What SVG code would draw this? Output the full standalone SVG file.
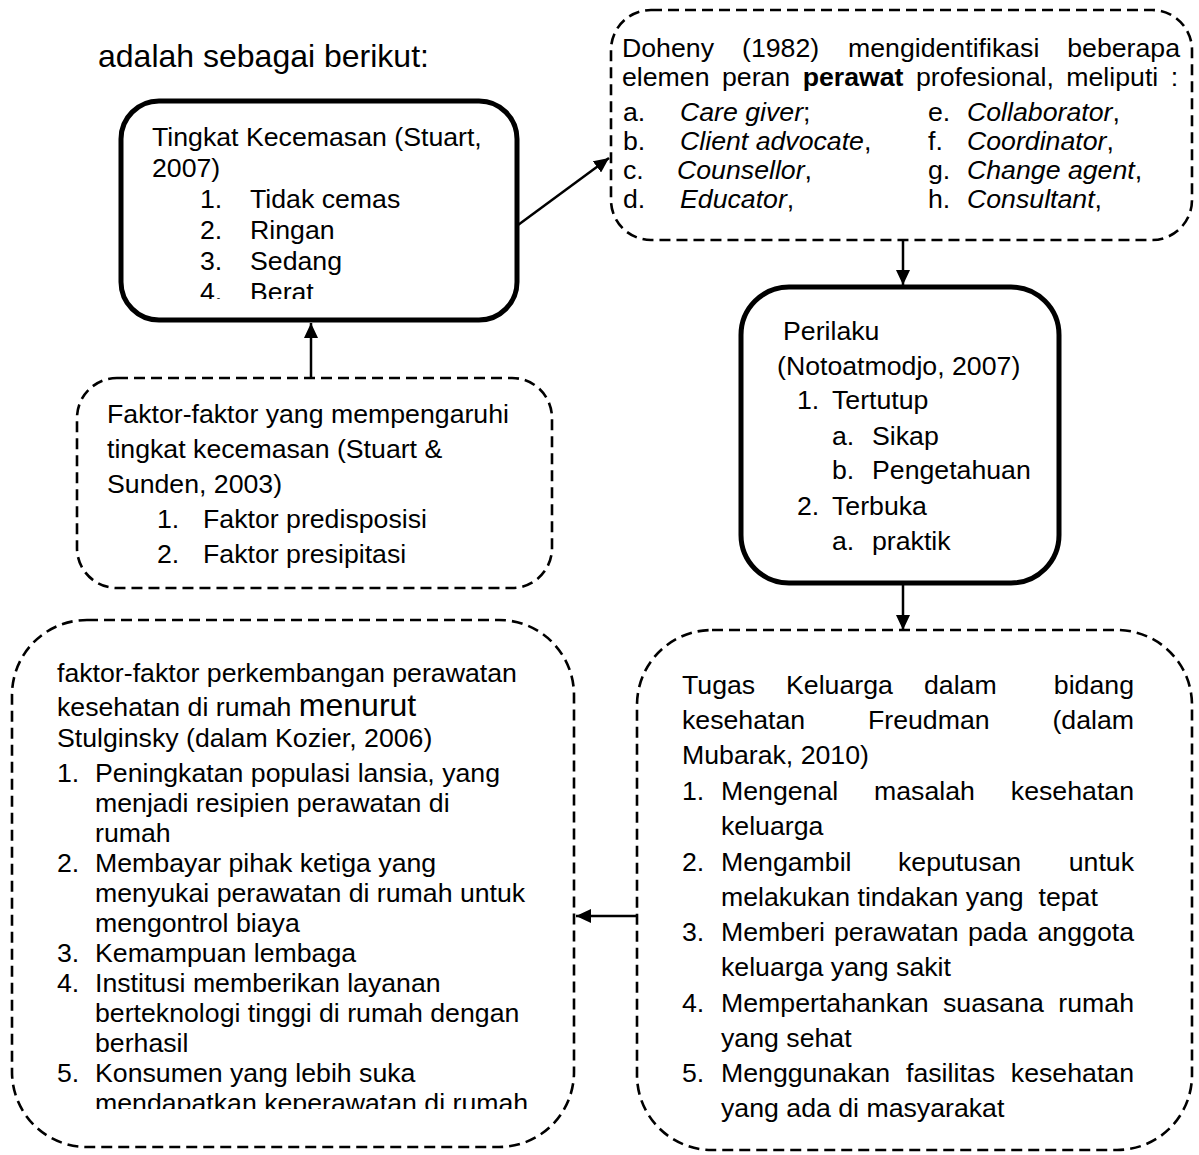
<svg xmlns="http://www.w3.org/2000/svg" width="1199" height="1155" viewBox="0 0 1199 1155">
<style>
.t{font-family:"Liberation Sans",Arial,sans-serif;font-size:26.7px;fill:#000}
.big{font-size:32px}
.i{font-style:italic}
.b{font-weight:bold}
.thick{fill:#fff;stroke:#000;stroke-width:5}
.dash{fill:#fff;stroke:#000;stroke-width:2.6;stroke-dasharray:11 6}
.conn{fill:none;stroke:#000;stroke-width:2.5}
</style>
<defs>
<marker id="ah" markerUnits="userSpaceOnUse" markerWidth="16" markerHeight="14" refX="15" refY="7" orient="auto">
<path d="M0,0 L15,7 L0,14 z" fill="#000"/>
</marker>
<clipPath id="clip1"><rect x="100" y="90" width="440" height="209"/></clipPath>
<clipPath id="clip5"><rect x="0" y="600" width="600" height="509"/></clipPath>
</defs>
<rect width="1199" height="1155" fill="#fff"/>

<text class="t big" x="98" y="67">adalah sebagai berikut:</text>

<g id="tingkat-kecemasan">
<rect class="thick" x="121" y="101" width="396" height="219" rx="38"/>
<g clip-path="url(#clip1)">
<text class="t" x="152" y="146">Tingkat Kecemasan (Stuart,</text>
<text class="t" x="152" y="177">2007)</text>
<text class="t" x="200" y="208">1.</text><text class="t" x="250" y="208">Tidak cemas</text>
<text class="t" x="200" y="239">2.</text><text class="t" x="250" y="239">Ringan</text>
<text class="t" x="200" y="270">3.</text><text class="t" x="250" y="270">Sedang</text>
<text class="t" x="200" y="301">4.</text><text class="t" x="250" y="301">Berat</text>
</g>
</g>

<g id="doheny">
<rect class="dash" x="611" y="10" width="581" height="230" rx="40"/>
<text class="t" y="57"><tspan x="622">Doheny</tspan><tspan x="742">(1982)</tspan><tspan x="848">mengidentifikasi</tspan></text>
<text class="t" x="1180" y="57" text-anchor="end">beberapa</text>
<text class="t" x="622" y="86" word-spacing="5">elemen peran <tspan class="b">perawat</tspan> profesional, meliputi :</text>
<text class="t" x="623" y="121">a.</text><text class="t" x="680" y="121"><tspan class="i">Care giver</tspan>;</text>
<text class="t" x="623" y="150">b.</text><text class="t" x="680" y="150"><tspan class="i">Client advocate</tspan>,</text>
<text class="t" x="623" y="179">c.</text><text class="t" x="677" y="179"><tspan class="i">Counsellor</tspan>,</text>
<text class="t" x="623" y="208">d.</text><text class="t" x="680" y="208"><tspan class="i">Educator</tspan>,</text>
<text class="t" x="928" y="121">e.</text><text class="t" x="967" y="121"><tspan class="i">Collaborator</tspan>,</text>
<text class="t" x="928" y="150">f.</text><text class="t" x="967" y="150"><tspan class="i">Coordinator</tspan>,</text>
<text class="t" x="928" y="179">g.</text><text class="t" x="967" y="179"><tspan class="i">Change agent</tspan>,</text>
<text class="t" x="928" y="208">h.</text><text class="t" x="967" y="208"><tspan class="i">Consultant</tspan>,</text>
</g>

<g id="perilaku">
<rect class="thick" x="741" y="287" width="318" height="296" rx="48"/>
<text class="t" x="783" y="340">Perilaku</text>
<text class="t" x="777" y="375">(Notoatmodjo, 2007)</text>
<text class="t" x="797" y="409">1.</text><text class="t" x="832" y="409">Tertutup</text>
<text class="t" x="832" y="445">a.</text><text class="t" x="872" y="445">Sikap</text>
<text class="t" x="832" y="479">b.</text><text class="t" x="872" y="479">Pengetahuan</text>
<text class="t" x="797" y="515">2.</text><text class="t" x="832" y="515">Terbuka</text>
<text class="t" x="832" y="550">a.</text><text class="t" x="872" y="550">praktik</text>
</g>

<g id="faktor-kecemasan">
<rect class="dash" x="77" y="378" width="475" height="210" rx="40"/>
<text class="t" x="107" y="423">Faktor-faktor yang mempengaruhi</text>
<text class="t" x="107" y="458">tingkat kecemasan (Stuart &amp;</text>
<text class="t" x="107" y="493">Sunden, 2003)</text>
<text class="t" x="157" y="528">1.</text><text class="t" x="203" y="528">Faktor predisposisi</text>
<text class="t" x="157" y="563">2.</text><text class="t" x="203" y="563">Faktor presipitasi</text>
</g>

<g id="perkembangan-perawatan">
<rect class="dash" x="12" y="620" width="562" height="527" rx="75"/>
<g clip-path="url(#clip5)">
<text class="t" x="57" y="682">faktor-faktor perkembangan perawatan</text>
<text class="t" x="57" y="716">kesehatan di rumah <tspan class="big">menurut</tspan></text>
<text class="t" x="57" y="747">Stulginsky (dalam Kozier, 2006)</text>
<text class="t" x="57" y="782">1.</text><text class="t" x="95" y="782">Peningkatan populasi lansia, yang</text>
<text class="t" x="95" y="812">menjadi resipien perawatan di</text>
<text class="t" x="95" y="842">rumah</text>
<text class="t" x="57" y="872">2.</text><text class="t" x="95" y="872">Membayar pihak ketiga yang</text>
<text class="t" x="95" y="902">menyukai perawatan di rumah untuk</text>
<text class="t" x="95" y="932">mengontrol biaya</text>
<text class="t" x="57" y="962">3.</text><text class="t" x="95" y="962">Kemampuan lembaga</text>
<text class="t" x="57" y="992">4.</text><text class="t" x="95" y="992">Institusi memberikan layanan</text>
<text class="t" x="95" y="1022">berteknologi tinggi di rumah dengan</text>
<text class="t" x="95" y="1052">berhasil</text>
<text class="t" x="57" y="1082">5.</text><text class="t" x="95" y="1082">Konsumen yang lebih suka</text>
<text class="t" x="95" y="1112">mendapatkan keperawatan di rumah</text>
</g>
</g>

<g id="tugas-keluarga">
<rect class="dash" x="637" y="630" width="555" height="520" rx="75"/>
<text class="t" y="694"><tspan x="682">Tugas</tspan><tspan x="786">Keluarga</tspan><tspan x="924">dalam</tspan></text>
<text class="t" x="1134" y="694" text-anchor="end">bidang</text>
<text class="t" y="729"><tspan x="682">kesehatan</tspan><tspan x="868">Freudman</tspan></text>
<text class="t" x="1134" y="729" text-anchor="end">(dalam</text>
<text class="t" x="682" y="764">Mubarak, 2010)</text>
<text class="t" x="682" y="800">1.</text>
<text class="t" y="800"><tspan x="721">Mengenal</tspan><tspan x="874">masalah</tspan></text>
<text class="t" x="1134" y="800" text-anchor="end">kesehatan</text>
<text class="t" x="721" y="835">keluarga</text>
<text class="t" x="682" y="871">2.</text>
<text class="t" y="871"><tspan x="721">Mengambil</tspan><tspan x="898">keputusan</tspan></text>
<text class="t" x="1134" y="871" text-anchor="end">untuk</text>
<text class="t" x="721" y="906" xml:space="preserve">melakukan tindakan yang  tepat</text>
<text class="t" x="682" y="941">3.</text>
<text class="t" y="941"><tspan x="721">Memberi</tspan><tspan x="834">perawatan</tspan><tspan x="968">pada</tspan></text>
<text class="t" x="1134" y="941" text-anchor="end">anggota</text>
<text class="t" x="721" y="976">keluarga yang sakit</text>
<text class="t" x="682" y="1012">4.</text>
<text class="t" y="1012"><tspan x="721">Mempertahankan</tspan><tspan x="943">suasana</tspan></text>
<text class="t" x="1134" y="1012" text-anchor="end">rumah</text>
<text class="t" x="721" y="1047">yang sehat</text>
<text class="t" x="682" y="1082">5.</text>
<text class="t" y="1082"><tspan x="721">Menggunakan</tspan><tspan x="906">fasilitas</tspan></text>
<text class="t" x="1134" y="1082" text-anchor="end">kesehatan</text>
<text class="t" x="721" y="1117">yang ada di masyarakat</text>
</g>

<g id="connectors">
<line class="conn" x1="518" y1="225" x2="609" y2="158" marker-end="url(#ah)"/>
<line class="conn" x1="903" y1="240" x2="903" y2="285" marker-end="url(#ah)"/>
<line class="conn" x1="311" y1="378" x2="311" y2="323" marker-end="url(#ah)"/>
<line class="conn" x1="903" y1="585" x2="903" y2="630" marker-end="url(#ah)"/>
<line class="conn" x1="637" y1="916" x2="576" y2="916" marker-end="url(#ah)"/>
</g>
</svg>
